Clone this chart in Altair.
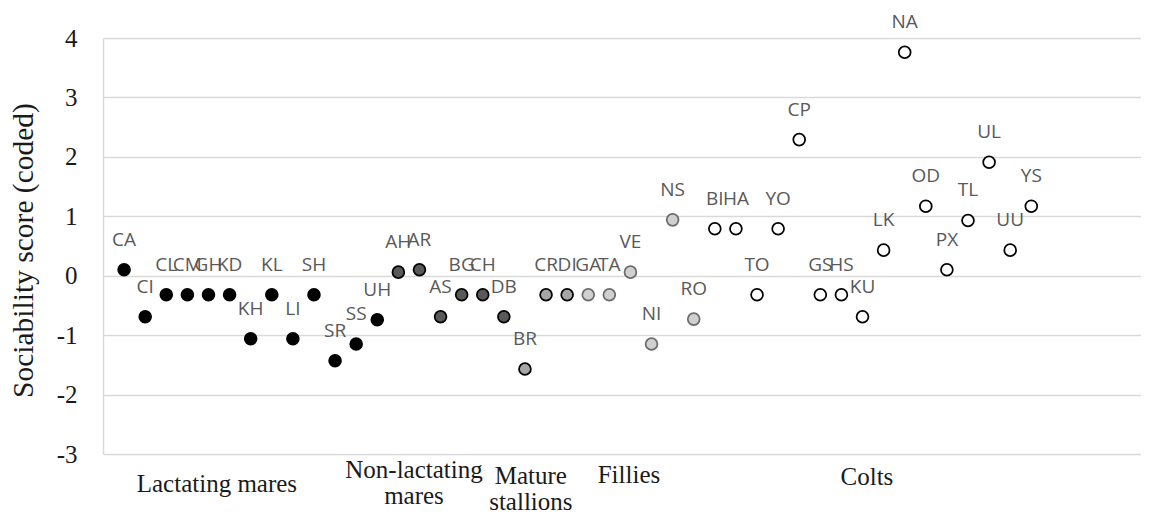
import altair as alt
import pandas as pd

names = ["CA","CI","CL","CM","GH","KD","KH","KL","LI","SH","SR","SS","UH",
         "AH","AR","AS","BG","CH","DB",
         "BR","CR","DI",
         "GA","TA","VE","NI","NS","RO",
         "BI","HA","TO","YO","CP","GS","HS","KU","LK","NA","OD","PX","TL","UL","UU","YS"]
scores = [0.10,-0.69,-0.32,-0.32,-0.32,-0.32,-1.06,-0.32,-1.06,-0.32,-1.43,-1.15,-0.74,
          0.06,0.10,-0.69,-0.32,-0.32,-0.69,
          -1.57,-0.32,-0.32,
          -0.32,-0.32,0.06,-1.15,0.94,-0.73,
          0.79,0.79,-0.32,0.79,2.29,-0.32,-0.32,-0.69,0.43,3.76,1.17,0.10,0.93,1.91,0.43,1.17]
groups = (["Lactating mares"]*13 + ["Non-lactating mares"]*6 + ["Mature stallions"]*3
          + ["Fillies"]*6 + ["Colts"]*16)
group_order = ["Lactating mares","Non-lactating mares","Mature stallions","Fillies","Colts"]
group_texts = ["Lactating mares","Non-lactating\nmares","Mature\nstallions","Fillies","Colts"]
fills = ["#000000","#595959","#a6a6a6","#d0d0d0","#ffffff"]
strokes = ["#000000","#000000","#000000","#6b6b6b","#000000"]

df = pd.DataFrame({"name": names, "score": scores, "group": groups,
                   "idx": list(range(1, len(names)+1))})

# annotation placement for the category captions under the plot (data units)
lab_df = pd.DataFrame({
    "text": group_texts,
    "gx": [5.40, 14.74, 20.28, 24.93, 36.21],
    "gy": [-3.643, -3.40, -3.50, -3.483, -3.517],
})

xs = alt.Scale(domain=[0, 49.2], nice=False, zero=False)
ys = alt.Scale(domain=[-3, 4], nice=False, zero=False)

base = alt.Chart(df)

pts = base.mark_circle(size=140, strokeWidth=1.75, opacity=1).encode(
    x=alt.X("idx:Q", scale=xs, axis=None),
    y=alt.Y("score:Q", scale=ys, axis=alt.Axis(
        title="Sociability score (coded)", values=[-3,-2,-1,0,1,2,3,4],
        labelExpr="'' + datum.value",
        grid=True, gridColor="#d9d9d9", gridWidth=1.5,
        domain=True, domainColor="#d9d9d9", domainWidth=1.5,
        ticks=False, labelPadding=26,
        labelFont="Liberation Serif", labelFontSize=25, labelColor="#1a1a1a",
        titleFont="Liberation Serif", titleFontSize=29.5, titleFontWeight="normal",
        titleColor="#1a1a1a", titleAngle=-90, titleX=-80, titleY=212,
        titleAlign="center", titleBaseline="middle")),
    fill=alt.Fill("group:N", scale=alt.Scale(domain=group_order, range=fills), legend=None),
    stroke=alt.Stroke("group:N", scale=alt.Scale(domain=group_order, range=strokes), legend=None),
)

txt = base.mark_text(font="Open Sans", fontSize=19, color="#595959",
                     baseline="alphabetic", dy=-24).encode(
    x=alt.X("idx:Q", scale=xs), y=alt.Y("score:Q", scale=ys), text="name:N")

glab = alt.Chart(lab_df).mark_text(font="Liberation Serif", fontSize=25, color="#1a1a1a",
                                   baseline="alphabetic", align="center",
                                   lineBreak="\n", lineHeight=26).encode(
    x=alt.X("gx:Q", scale=xs), y=alt.Y("gy:Q", scale=ys), text="text:N")

chart = alt.layer(pts, txt, glab).properties(
    width=1038, height=416,
    autosize=alt.AutoSizeParams(type="none"),
    padding={"left": 95, "top": 30, "right": 0, "bottom": 64},
).configure_view(stroke=None)

chart.save("out.html", embed_options={"renderer": "svg", "actions": False})
